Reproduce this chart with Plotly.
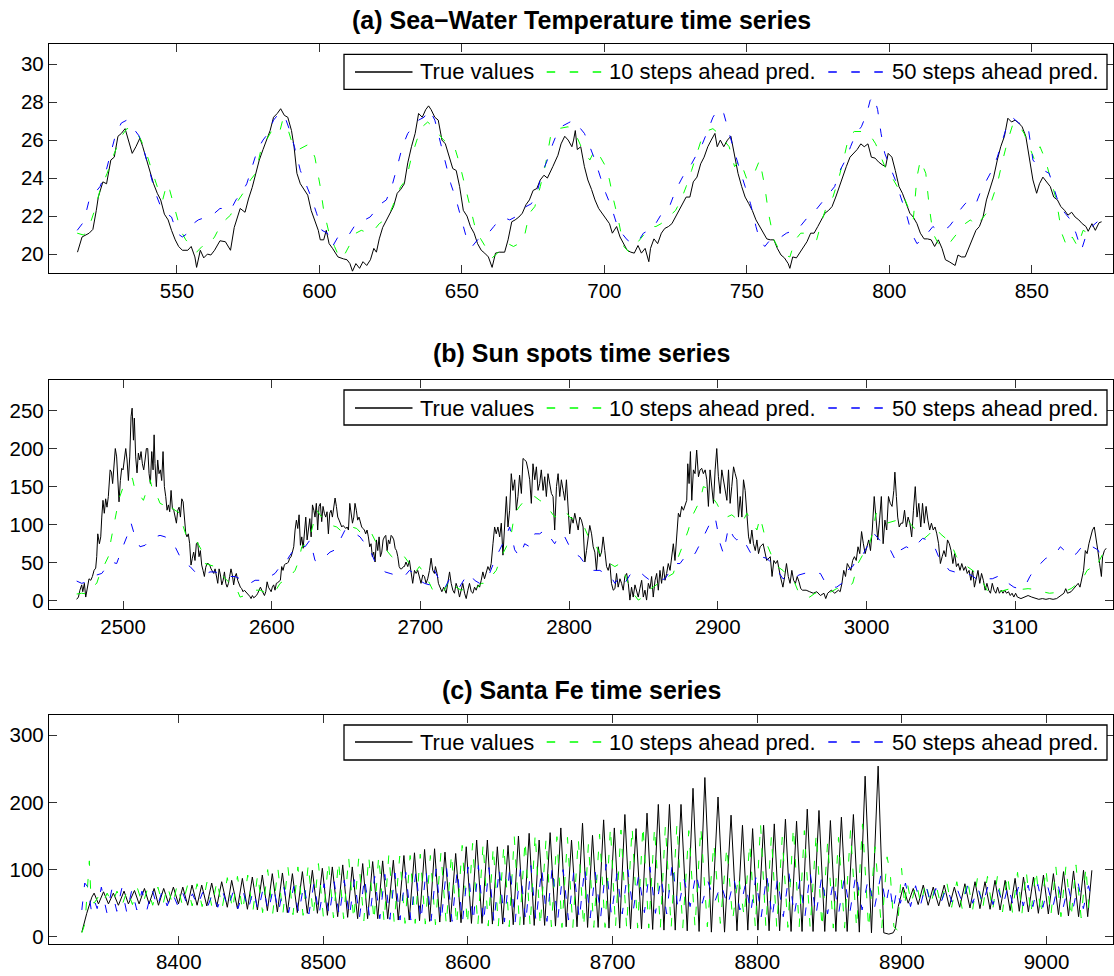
import plotly.graph_objects as go

# ---------------- DATA ----------------
# (a) Sea-Water Temperature
sw_true = [(515.1,20.1),(516.7,20.9),(519.2,21.1),(520.5,21.3),(521.7,22.3),(522.4,23.0),(524,23.8),(525.3,23.7),(526.8,24.95),(528,25.1),(529.3,26.2),(530.5,26.35),(531.8,26.6),(533,26.0),(534.3,25.3),(535.6,25.65),(537,26.1),(538,25.65),(539.3,24.95),(540.6,24.25),(541.8,23.7),(543.1,23.2),(544.3,22.85),(545.6,22.1),(546.9,21.8),(548.1,21.25),(549.4,20.75),(550.6,20.4),(551.9,20.2),(553.8,20.2),(555,20.4),(556.3,19.85),(556.9,19.3),(558.2,20.2),(559.4,19.8),(560.7,20.0),(561.9,19.95),(563.2,20.2),(565.1,20.7),(567,20.65),(568.8,20.2),(570.1,21.4),(571.4,22.1),(572.2,22.4),(573.9,22.2),(575.1,22.9),(576.4,23.5),(577.6,24.25),(578.9,24.95),(580.2,25.5),(581.4,26.0),(582.7,26.5),(583.9,27.2),(585.2,27.4),(586.4,27.65),(587.7,27.3),(588.9,27.2),(590.2,26.5),(591.1,25.65),(592.1,24.25),(593.3,23.7),(594.6,23.4),(595.9,23.1),(597.1,22.3),(598.4,21.8),(599.6,21.25),(600.3,20.75),(601.5,20.75),(602.4,21.25),(603.4,20.55),(604.6,20.3),(606.5,19.85),(608.4,19.75),(609.7,19.7),(610.7,19.5),(611.6,19.1),(612.8,19.5),(614.1,19.25),(615.3,19.6),(616.6,19.4),(617.9,19.7),(619.1,20.3),(620,20.1),(621,20.8),(622.2,21.4),(623.5,21.8),(624.7,22.1),(626,22.5),(627.3,23.2),(628.5,23.4),(629.8,23.7),(631,24.8),(632.3,25.65),(633.6,26.35),(634.8,27.4),(636.1,27.2),(637.3,27.6),(638.3,27.8),(639.2,27.6),(640.5,27.2),(641.7,27.05),(643,26.0),(644.2,25.8),(645.5,25.1),(646.8,24.5),(648,24.4),(649.2,23.55),(650.5,22.3),(651.8,22.0),(653,21.45),(654.3,21.1),(655.5,20.55),(656.8,20.2),(658,20.05),(659.3,19.85),(660.6,19.3),(661.8,20.05),(663.1,20.1),(665,20.1),(666.2,20.75),(667.5,21.7),(668.7,21.8),(670,21.95),(671.2,22.15),(672.5,22.6),(673.7,22.85),(675,23.35),(676.3,23.45),(677.5,23.9),(678.8,24.15),(680,24.0),(681.9,24.6),(683.7,25.2),(684.8,25.8),(686.1,26.2),(687.3,26.0),(688.6,25.65),(689.2,26.0),(689.8,26.5),(690.5,25.5),(691.7,25.65),(693,24.6),(694.2,23.9),(695.5,23.4),(696.7,22.85),(698,22.4),(699.2,22.15),(700.5,21.9),(701.8,21.6),(702.8,21.1),(704.3,21.45),(705.5,20.9),(706.8,20.55),(708,20.2),(709.3,20.1),(710.5,20.05),(711.8,20.45),(713,20.05),(714.3,20.3),(715.6,19.6),(716.2,20.3),(717.4,20.8),(718.7,20.55),(720,21.1),(721.2,21.35),(722.5,21.45),(723.7,21.6),(725,21.95),(726.2,22.3),(727.5,22.65),(728.7,23.0),(730,23.0),(731.2,23.8),(732.5,24.05),(733.8,24.75),(735,25.1),(736.3,25.65),(737.5,26.0),(738.8,26.35),(739.6,25.65),(740.7,26.0),(741.9,25.65),(743.2,26.0),(744.4,26.2),(745.7,25.1),(746.9,24.25),(748.2,23.55),(749.4,23.0),(750.7,22.65),(751.9,22.3),(753.2,21.8),(754.5,21.45),(755.7,21.1),(757,20.8),(758.2,20.75),(759.5,20.75),(760.7,20.3),(762,19.95),(763.2,19.8),(764.5,19.5),(765.1,19.25),(766.1,19.85),(767.4,19.8),(768.6,20.1),(769.9,20.4),(771.1,20.65),(772.4,21.1),(773.6,21.1),(774.9,21.45),(776.2,21.8),(777.4,22.15),(778.7,22.3),(779.9,22.5),(781.2,23.0),(782.4,23.55),(783.7,24.05),(784.9,24.6),(786.2,25.1),(787.5,25.3),(788.7,25.5),(790,25.8),(791.2,25.65),(792.5,25.8),(793.7,25.1),(795,25.05),(796.2,24.85),(797.5,24.7),(798.7,24.6),(799.6,25.3),(800.9,25.1),(802.1,24.4),(803.4,23.55),(804.6,23.2),(805.9,22.65),(807.2,22.15),(808.4,21.95),(809.7,21.6),(810.9,21.1),(812.2,20.8),(813.4,20.8),(814.7,20.75),(815.9,20.4),(817.2,20.75),(818.5,20.3),(819.7,19.7),(821,19.6),(822.2,19.5),(823.1,19.4),(824.1,19.95),(825.3,19.85),(826.6,19.85),(827.9,20.3),(829.1,20.8),(830.4,21.25),(831.6,21.45),(832.9,21.95),(834.1,22.85),(835.4,23.55),(836.6,24.05),(837.9,24.95),(839.1,25.65),(840.4,26.2),(841.6,27.15),(842.9,26.95),(844.1,27.05),(845.4,26.9),(846.6,26.7),(847.9,26.2),(849.2,25.1),(850.4,23.9),(851.7,23.2),(852.7,23.7),(853.9,24.05),(855.2,23.8),(856.5,23.55),(857.7,23.0),(859,22.85),(860.2,22.5),(861.5,22.3),(862.7,22.05),(864,22.2),(865.2,21.95),(866.5,21.8),(867.7,21.6),(869,21.45),(869.8,21.2),(871.1,21.6),(872.3,21.25),(873.6,21.65),(874.5,21.7)]

sw_p10 = [(515,21.1),(517.3,21.0),(519.2,21.45),(521.1,22.3),(523,23.35),(525.5,24.25),(528,25.3),(530.5,26.2),(532.4,26.6),(534.9,26.6),(537.4,26.0),(539.3,25.3),(541.2,24.4),(543.1,23.55),(545,22.85),(546.2,23.55),(547,23.7),(547.5,23.35),(549.4,22.3),(551.3,21.25),(553.1,20.75),(555,20.45),(556.9,20.1),(558.8,20.4),(560.7,20.4),(563.2,20.9),(565.1,21.45),(567,21.8),(568.8,22.05),(570.7,22.65),(573.2,23.2),(575.8,23.9),(577.6,24.25),(579.5,25.5),(581.4,26.0),(583.3,26.5),(585.2,26.6),(586,26.4),(587.1,27.05),(588.9,26.6),(590.8,25.65),(592.7,25.5),(594.6,25.65),(596.5,25.8),(598.4,25.1),(600.3,23.55),(601.5,22.3),(603.4,21.1),(605.3,20.4),(607.2,19.75),(609.1,20.05),(611,20.55),(612.8,21.1),(614.7,21.25),(617.3,21.1),(619.1,21.25),(621,21.6),(622.9,21.8),(624.7,22.15),(626.6,22.85),(628.5,23.55),(630.4,23.9),(632.3,25.1),(634.2,26.0),(636.1,26.7),(638,26.95),(639.8,26.7),(641.7,26.35),(643.6,26.0),(645.5,25.8),(647.4,25.65),(649.2,24.75),(651.1,23.55),(653,22.5),(654.9,21.25),(656.8,20.75),(658.7,20.3),(660.6,19.8),(662.5,20.05),(664.3,20.4),(666.2,20.55),(668.1,20.4),(670,20.55),(671.9,20.9),(673.7,22.15),(675.6,22.5),(677.5,23.55),(679.4,24.75),(681.3,26.35),(683.8,26.6),(687.3,26.7),(689.8,26.35),(692.3,25.5),(694.9,24.95),(696.7,25.5),(698.6,25.1),(700.5,24.6),(701.8,23.9),(703,23.0),(704.9,21.8),(706.8,20.4),(708.7,20.1),(710.5,20.4),(712.4,20.75),(714.3,21.1),(716.2,21.45),(718.1,21.45),(719.9,21.6),(722.5,21.95),(725,22.3),(726.9,22.85),(728.7,23.55),(730.6,24.4),(732.5,25.3),(734.4,26.2),(736.3,26.5),(738.1,26.6),(740,26.35),(741.9,26.0),(743.8,25.65),(745.7,24.6),(747.6,24.95),(750.1,23.9),(752.6,24.25),(754.5,24.95),(756.3,23.55),(757.6,22.15),(759.5,20.75),(761.4,20.2),(763.2,19.95),(765.1,19.85),(767,20.75),(768.9,21.1),(770.8,21.1),(772.6,20.9),(774.5,20.75),(776.4,21.8),(778.3,22.65),(780.2,23.0),(782.1,23.9),(783.9,24.95),(785.8,26.2),(787.7,26.45),(789.6,26.45),(791.5,26.45),(793.3,26.25),(795.2,25.8),(797.1,25.1),(799,24.4),(800.9,24.05),(802.8,23.55),(804.6,23.2),(806.5,22.5),(808.4,21.8),(809.7,24.05),(810.9,24.95),(812.8,24.25),(814,22.5),(815.3,21.1),(817.2,20.55),(819.1,20.4),(821,20.55),(822.8,20.9),(824.7,21.25),(826.6,21.6),(828.5,21.8),(830.4,21.45),(832.2,21.8),(834.1,22.15),(836,22.85),(837.9,23.7),(839.8,24.95),(841.6,26.0),(843.5,26.9),(845.4,26.8),(847.3,26.35),(849.2,25.65),(851,24.95),(852.9,25.65),(854.8,24.95),(856.7,23.9),(858.6,22.85),(860.5,21.1),(862.3,20.4),(864.2,20.9),(866.1,20.4),(868,21.25),(869.8,21.1),(871.7,21.0),(873,21.0)]

sw_p50 = [(515,21.25),(517.3,21.7),(519.2,22.85),(521.1,23.2),(523,23.55),(524.9,24.25),(526.8,25.3),(528.6,26.35),(530.5,26.9),(532.4,27.05),(534.3,26.7),(536.8,26.2),(538.7,25.3),(540.6,24.25),(542.5,23.2),(544.3,22.5),(546.2,22.15),(548.1,21.95),(550,21.1),(551.9,20.9),(553.8,21.1),(555.7,21.6),(557.5,21.8),(559.4,21.9),(561.3,21.95),(563.2,22.15),(565.1,22.4),(567,22.4),(568.8,22.3),(570.7,22.85),(572.6,23.2),(574.5,23.7),(576.4,24.6),(578.3,25.5),(580.2,26.0),(582,26.35),(583.9,27.05),(585.8,27.4),(587.7,27.3),(589.6,26.5),(591.5,25.5),(593.3,24.4),(595.2,23.7),(597.1,23.0),(599,22.15),(600.9,21.25),(602.8,21.1),(604.6,20.4),(606.5,20.9),(608.4,21.1),(610.3,21.0),(612.2,21.45),(614.1,21.7),(615.9,21.8),(617.8,21.95),(619.7,22.3),(621.6,22.65),(623.5,22.85),(625.4,23.55),(627.3,24.6),(629.1,25.65),(631,26.35),(632.9,26.7),(634.8,27.05),(636.7,27.2),(638.6,27.6),(640.5,27.05),(642.3,26.0),(644.2,24.95),(646.1,23.7),(648,22.85),(649.9,21.8),(651.8,20.75),(653.6,20.4),(655.5,20.75),(657.4,20.9),(659.3,21.1),(661.2,21.45),(663.1,21.8),(665,21.9),(666.8,21.8),(668.7,21.95),(670.6,22.15),(672.5,22.5),(674.4,22.65),(676.3,23.2),(678.1,24.25),(680,24.95),(681.9,25.8),(683.8,26.5),(684.8,26.7),(687.3,26.9),(689.2,27.05),(691.1,26.7),(693,26.35),(694.9,25.65),(696.7,24.95),(698.6,24.05),(700.5,23.2),(702.4,22.5),(704.3,21.6),(706.1,21.1),(708,20.75),(709.9,20.55),(711.8,20.65),(713.7,21.1),(715.6,21.25),(717.4,21.45),(719.3,21.95),(721.2,22.4),(723.1,22.6),(725,23.35),(726.9,23.9),(728.7,24.4),(730.6,24.75),(732.5,25.3),(734.4,25.8),(736.3,26.5),(738.1,27.2),(740,27.65),(741.9,27.4),(743.8,26.35),(745.7,25.3),(747.6,24.4),(749.4,23.55),(751.3,22.65),(753.2,21.45),(754.5,20.75),(756.3,20.4),(758.2,20.75),(760.1,20.9),(762,20.9),(763.9,21.1),(765.7,21.2),(767.6,21.25),(769.5,21.6),(771.4,21.95),(773.3,22.15),(775.2,22.5),(777,22.85),(778.9,23.2),(780.8,23.55),(782.7,24.4),(784.6,24.95),(786.4,25.65),(788.3,26.35),(790.2,26.7),(792.1,27.4),(793.3,28.1),(794.6,28.3),(795.9,27.6),(797.1,26.35),(798.4,25.3),(800.3,24.6),(802.1,23.9),(804,23.0),(805.9,22.15),(807.8,21.1),(809.7,20.55),(811.5,20.75),(813.4,21.1),(815.3,21.45),(817.2,21.25),(819.1,21.25),(821,21.45),(822.8,21.8),(824.7,22.3),(826.6,22.65),(828.5,22.85),(830.4,22.65),(832.2,23.35),(834.1,23.9),(836,24.4),(837.9,25.1),(839.8,26.0),(841.6,26.9),(843.5,27.15),(845.4,26.9),(847.3,26.8),(848.6,26.8),(850.4,24.95),(852.3,24.6),(854.2,24.4),(856.1,24.25),(858,23.35),(859.8,22.5),(861.7,22.15),(863.6,21.8),(865.5,21.1),(867.4,20.2),(869.3,21.1),(871.1,21.45),(873,21.7)]

# (b) Sun spots
ss_true = [(2468.8,2),(2470,5),(2471,14),(2472.2,21),(2472.9,12),(2474,23),(2474.9,5),(2476,18),(2477.1,29),(2478.3,27),(2479.4,32),(2480.5,40),(2481.6,43),(2482.3,58),(2483,88),(2484.1,75),(2485,84),(2485.7,110),(2486.5,132),(2487.4,115),(2488.3,134),(2489.2,123),(2490.1,137),(2491.3,172),(2492.2,169),(2493,154),(2494,176),(2494.8,200),(2495.7,189),(2496.6,158),(2497.3,130),(2498.2,158),(2499.1,174),(2500,172),(2500.9,189),(2501.8,200),(2502.7,185),(2503.6,158),(2504.5,189),(2505.4,242),(2506.1,253),(2507,211),(2507.6,240),(2508.5,189),(2509.4,168),(2510.3,194),(2511.2,185),(2512.1,196),(2513,180),(2513.9,172),(2514.8,185),(2515.7,200),(2516.6,200),(2517.5,167),(2518.4,154),(2519.3,196),(2520.2,172),(2520.9,218),(2521.5,180),(2522.4,150),(2523.3,185),(2524.2,167),(2525.1,172),(2526,158),(2526.9,196),(2527.8,150),(2528.7,137),(2529.6,119),(2530.5,126),(2531.4,117),(2532.3,145),(2533.2,121),(2534.1,119),(2535,110),(2535.9,102),(2536.8,119),(2537.7,123),(2538.6,110),(2539.5,134),(2540.4,130),(2541.3,110),(2542.2,88),(2543,84),(2543.9,88),(2544.8,75),(2545.7,47),(2546.6,56),(2547.5,64),(2548.4,53),(2549.3,75),(2550.2,77),(2551.1,58),(2552,66),(2552.9,47),(2553.8,40),(2554.7,32),(2555.6,44),(2556.5,49),(2557.4,49),(2558.3,47),(2559.2,42),(2560.1,38),(2561,36),(2561.9,42),(2562.8,32),(2563.7,23),(2564.6,42),(2565.5,34),(2566.4,21),(2567.3,27),(2568.2,38),(2569.1,23),(2570,18),(2570.9,23),(2571.7,32),(2572.6,42),(2573.5,34),(2574.4,21),(2575.3,32),(2576.2,36),(2577.1,27),(2578,21),(2578.9,18),(2579.8,16),(2580.7,12),(2581.6,14),(2582.5,12),(2583.4,10),(2584.3,9),(2585.2,6),(2586.1,3),(2587,7),(2587.9,4),(2588.8,5),(2589.7,7),(2590.6,10),(2591.5,14),(2592.4,18),(2593.3,14),(2594.2,10),(2595.1,7),(2596,12),(2596.9,25),(2597.8,18),(2598.7,14),(2599.6,12),(2600.4,18),(2601.3,21),(2602.2,14),(2603.1,23),(2604,24),(2604.9,25),(2605.8,27),(2606.7,45),(2607.6,40),(2608.5,47),(2609.4,49),(2610.3,49),(2611.2,51),(2612.1,56),(2613,58),(2613.9,64),(2614.8,71),(2615.7,93),(2616.6,106),(2617.5,95),(2618.4,113),(2619.3,73),(2620.2,84),(2621.1,69),(2622,97),(2622.9,110),(2623.8,80),(2624.7,97),(2625.6,108),(2626.5,84),(2627.4,126),(2628.3,119),(2629.1,110),(2630,128),(2630.9,93),(2631.8,124),(2632.7,128),(2633.6,104),(2634.5,124),(2635.4,115),(2636.3,110),(2637.2,117),(2638.1,88),(2639,115),(2639.9,119),(2640.8,110),(2641.7,124),(2642.6,135),(2643.5,124),(2644.4,110),(2645.3,106),(2646.2,102),(2647.1,97),(2648,99),(2648.9,97),(2649.8,95),(2650.7,97),(2651.6,93),(2652.5,128),(2653.4,110),(2654.3,102),(2655.2,110),(2656,128),(2656.9,119),(2657.8,106),(2658.7,110),(2659.6,102),(2660.5,97),(2661.4,95),(2662.3,93),(2663.2,88),(2664.1,93),(2665,84),(2665.9,71),(2666.8,75),(2667.7,58),(2668.6,64),(2669.5,51),(2670.4,80),(2671.3,66),(2672.2,84),(2673.1,58),(2674,64),(2674.9,80),(2675.8,84),(2676.7,86),(2677.6,66),(2678.5,80),(2679.4,75),(2680.3,86),(2681.2,84),(2682.1,80),(2683,69),(2683.9,66),(2684.8,58),(2685.7,45),(2686.6,42),(2687.4,42),(2688.6,45),(2689.2,45),(2690.3,51),(2691.5,45),(2692.6,53),(2693.7,36),(2694.8,23),(2696,40),(2697.1,36),(2698.2,40),(2699.3,32),(2700.4,23),(2701.6,34),(2702.7,32),(2703.8,23),(2704.9,29),(2706.1,40),(2707.2,56),(2708.3,40),(2709.4,36),(2710.1,45),(2711.2,36),(2712.1,23),(2713.5,16),(2714.4,12),(2715.7,18),(2717.3,10),(2718.4,23),(2719.6,38),(2720.7,23),(2721.8,14),(2722.9,10),(2724,23),(2725.2,16),(2726.3,5),(2727.4,14),(2728.5,23),(2729.7,10),(2730.8,3),(2731.9,14),(2733,23),(2734.2,12),(2735.3,10),(2736.4,18),(2737.5,14),(2738.7,21),(2739.8,18),(2740.9,27),(2742,38),(2743.1,29),(2744.3,36),(2745.4,45),(2746.5,40),(2747.6,49),(2748.8,75),(2749.9,97),(2751,88),(2752.1,97),(2753.3,84),(2754.4,102),(2755.5,60),(2756.6,97),(2757.8,137),(2758.9,97),(2760,119),(2761.1,167),(2762.2,145),(2763.4,159),(2764.5,119),(2765.6,137),(2766.7,165),(2767.9,141),(2769,187),(2770.1,185),(2771.2,183),(2772.4,172),(2773.5,159),(2774.6,128),(2775.7,180),(2776.9,159),(2778,176),(2779.1,145),(2780.2,154),(2781.3,172),(2782.5,145),(2783.6,163),(2784.7,137),(2785.8,167),(2787,154),(2788.1,141),(2789.2,137),(2790.3,93),(2791.5,150),(2792.6,167),(2793.7,137),(2794.8,159),(2796,145),(2797.1,132),(2798.2,159),(2799.3,119),(2800.4,88),(2801.6,110),(2802.7,102),(2803.8,115),(2804.9,106),(2806.1,93),(2807.2,110),(2808.3,106),(2809.4,97),(2810.6,51),(2811.7,66),(2812.8,80),(2813.9,99),(2815.1,88),(2816.2,71),(2817.3,64),(2818.4,40),(2819.6,71),(2820.7,58),(2821.8,64),(2822.9,84),(2824,66),(2825.2,45),(2826.3,40),(2827.4,49),(2828.5,23),(2829.7,14),(2830.8,16),(2831.9,36),(2833,18),(2834.2,29),(2835.3,23),(2836.4,14),(2837.5,32),(2838.7,36),(2839.8,23),(2840.9,1),(2842,18),(2843.1,5),(2844.3,21),(2845.4,14),(2846.5,5),(2847.6,16),(2848.8,27),(2849.9,5),(2851,14),(2852.1,1),(2853.3,23),(2854.4,16),(2855.5,32),(2856.6,5),(2857.8,27),(2858.9,36),(2860,14),(2861.1,40),(2862.2,23),(2863.4,45),(2864.5,27),(2865.6,36),(2866.7,49),(2867.9,40),(2869,58),(2870.1,75),(2871.2,53),(2872.4,93),(2873.5,115),(2874.6,110),(2875.7,124),(2876.9,119),(2878,126),(2879.1,132),(2879.8,180),(2880.7,154),(2881.6,196),(2882.5,132),(2883.6,172),(2884.7,167),(2885.8,198),(2887,163),(2888.1,172),(2889.2,174),(2890.3,167),(2891.5,172),(2892.6,159),(2893.7,124),(2894.8,172),(2896,145),(2897.1,128),(2898.2,172),(2899.3,200),(2900.4,163),(2901.6,141),(2902.7,172),(2903.8,159),(2904.9,150),(2906.1,132),(2907.2,172),(2908.3,128),(2909.4,150),(2910.6,176),(2911.7,167),(2912.8,159),(2913.9,110),(2915.1,137),(2916.2,110),(2917.3,159),(2918.4,145),(2919.6,106),(2920.7,84),(2921.8,75),(2922.9,93),(2924,75),(2925.2,66),(2926.3,80),(2927.4,62),(2928.5,71),(2930.5,75),(2932.9,53),(2935.3,58),(2936.5,32),(2937.7,53),(2938.9,49),(2940.1,53),(2942.1,32),(2943.8,18),(2945,32),(2946.2,49),(2947.4,32),(2948.6,23),(2949.8,40),(2951,27),(2952.2,23),(2953.4,32),(2954.6,25),(2955.8,16),(2957,14),(2959.4,14),(2961.8,12),(2964.2,10),(2966.6,12),(2969,7),(2971.4,10),(2972.6,3),(2973.9,10),(2976.3,14),(2978.7,10),(2981.1,14),(2982.3,12),(2983.5,23),(2984.7,40),(2985.9,32),(2987.1,49),(2988.3,45),(2989.5,40),(2990.7,53),(2991.9,58),(2993.1,53),(2994.3,71),(2995.5,62),(2996.7,91),(2997.9,75),(2999.1,62),(3000.3,71),(3001.5,80),(3002.7,66),(3003.9,93),(3005.2,137),(3006.4,110),(3007.6,80),(3008.8,106),(3010,137),(3011.2,75),(3012.4,106),(3013.6,93),(3014.8,137),(3016,128),(3017.2,124),(3018.4,145),(3019.1,169),(3020.1,137),(3021,110),(3022,97),(3023.2,102),(3024.4,102),(3025.6,119),(3026.8,97),(3028,110),(3029.2,102),(3030.4,84),(3031.6,119),(3032.8,150),(3034,110),(3035.2,128),(3036.5,97),(3037.7,128),(3038.9,102),(3040.1,124),(3041.3,106),(3042.5,93),(3043.7,102),(3044.9,93),(3046.1,97),(3047.3,88),(3048.5,75),(3049.7,49),(3050.9,58),(3052.1,66),(3053.3,58),(3054.5,80),(3055.7,75),(3056.9,66),(3058.1,49),(3059.3,62),(3060.5,45),(3061.7,49),(3062.9,40),(3064.1,49),(3065.4,40),(3066.6,45),(3067.8,36),(3069,40),(3070.2,27),(3071.4,40),(3072.6,18),(3073.8,32),(3075,40),(3076.2,23),(3077.4,36),(3078.6,27),(3079.8,14),(3081,23),(3082.2,14),(3083.4,10),(3084.6,23),(3085.8,14),(3087,10),(3088.2,18),(3089.4,10),(3090.6,14),(3091.8,10),(3093,14),(3094.2,10),(3095.5,12),(3096.7,7),(3097.9,10),(3099.1,5),(3100.3,10),(3101.5,5),(3103.9,3),(3106.3,5),(3108.7,7),(3111.1,5),(3113.5,3),(3115.9,2),(3118.3,3),(3120.7,2),(3123.1,3),(3125.5,2),(3127.9,3),(3130.4,7),(3132.8,10),(3134,16),(3135.2,10),(3137.6,12),(3140,18),(3142.4,23),(3143.6,18),(3144.8,32),(3146,40),(3147.2,66),(3148.4,62),(3149.6,75),(3150.8,84),(3152,93),(3153.2,97),(3154.4,84),(3155.6,66),(3156.8,49),(3158,32),(3158.8,58),(3160,66),(3161.2,69)]

ss_p10 = [(2468.8,9),(2472.2,10),(2475.6,9),(2478.9,18),(2482.3,23),(2484.5,36),(2487.9,49),(2490.1,58),(2491.9,80),(2494.6,106),(2497.3,134),(2500.2,150),(2503.6,159),(2506.3,161),(2508.1,145),(2510.3,141),(2513.7,132),(2515.9,145),(2518.2,159),(2520.4,141),(2522.6,139),(2524.9,128),(2527.1,126),(2529.4,119),(2531.6,124),(2535,119),(2538.3,115),(2540.6,97),(2542.8,84),(2546.2,80),(2549.6,78),(2552.9,66),(2555.2,49),(2558.5,47),(2561.9,45),(2565.2,36),(2568.6,29),(2572,23),(2575.3,21),(2578.7,5),(2582.1,7),(2585.4,10),(2588.8,14),(2592.2,14),(2595.5,11),(2598.9,11),(2602.2,12),(2605.6,23),(2609,27),(2612.3,32),(2615.7,40),(2617.9,51),(2620.2,71),(2623.5,75),(2626.9,93),(2630.3,119),(2633.6,110),(2637,106),(2640.4,99),(2643.7,97),(2647.1,91),(2650.4,95),(2653.8,97),(2657.2,95),(2660.5,88),(2663.9,84),(2667.3,88),(2670.6,75),(2674,71),(2677.4,66),(2680.7,58),(2684.1,53),(2687.4,58),(2689.2,58),(2692.6,49),(2696,36),(2699.3,45),(2702.7,36),(2706.1,23),(2708.3,14),(2711.7,14),(2715.1,10),(2718.4,23),(2720.7,29),(2724,18),(2727.4,14),(2730.8,16),(2734.2,16),(2737.5,16),(2740.9,23),(2744.3,23),(2747.6,32),(2751,40),(2754.4,58),(2757.8,71),(2761.1,88),(2763.4,115),(2766.7,124),(2770.1,132),(2773.5,132),(2776.9,137),(2780.2,132),(2783.6,128),(2787,119),(2790.3,110),(2793.7,115),(2797.1,119),(2800.4,110),(2803.8,106),(2807.2,102),(2810.6,95),(2813.9,80),(2817.3,75),(2820.7,62),(2824,58),(2827.4,49),(2830.8,45),(2834.2,49),(2836.4,40),(2839.8,23),(2843.1,10),(2846.5,1),(2849.9,5),(2853.3,14),(2856.6,18),(2860,23),(2863.4,23),(2866.7,32),(2870.1,36),(2873.5,58),(2876.9,75),(2880.2,93),(2882.5,110),(2884.7,119),(2888.1,132),(2890.3,150),(2892.6,148),(2896,137),(2899.3,128),(2902.7,115),(2906.1,110),(2909.4,113),(2912.8,108),(2916.2,102),(2919.6,115),(2922.9,104),(2926.3,93),(2928.5,110),(2932.9,75),(2936.5,58),(2940.1,45),(2943.8,40),(2947.4,32),(2951,27),(2954.6,10),(2958.2,5),(2961.8,5),(2965.4,10),(2969,12),(2972.6,10),(2976.3,12),(2979.9,16),(2983.5,18),(2987.1,18),(2990.7,23),(2994.3,49),(2997.9,62),(3001.5,71),(3003.9,88),(3006.4,115),(3010,110),(3013.6,102),(3017.2,104),(3020.8,106),(3024.4,102),(3028,104),(3031.6,97),(3035.2,84),(3038.9,82),(3042.5,88),(3046.1,97),(3049.7,88),(3053.3,82),(3056.9,75),(3060.5,58),(3064.1,49),(3067.8,45),(3071.4,40),(3075,32),(3078.6,23),(3082.2,10),(3085.8,10),(3089.4,12),(3093,14),(3096.7,16),(3100.3,16),(3103.9,15),(3108.7,16),(3113.5,15),(3118.3,12),(3123.1,10),(3127.9,11),(3132.8,12),(3137.6,16),(3141.2,21),(3144.8,27),(3148.4,40),(3150.8,43),(3153.2,40),(3155.6,49),(3158,58),(3160.4,67)]

ss_p50 = [(2468.8,26),(2472.2,23),(2475.6,25),(2478.9,29),(2482.3,34),(2485.7,36),(2489,45),(2492.4,51),(2495.7,49),(2499.1,67),(2502.5,84),(2505.4,102),(2508.1,84),(2511.4,71),(2514.8,73),(2518.2,80),(2521.5,84),(2524.9,86),(2528.3,84),(2531.6,80),(2535,71),(2538.3,58),(2541.7,49),(2545.1,45),(2548.4,38),(2551.8,36),(2555.2,35),(2558.5,38),(2561.9,38),(2565.2,36),(2568.6,34),(2572,32),(2575.3,32),(2578.7,29),(2582.1,23),(2585.4,23),(2588.8,27),(2592.2,27),(2595.5,32),(2598.9,32),(2602.2,36),(2605.6,45),(2609,49),(2612.3,60),(2615.7,69),(2619.1,73),(2622.4,71),(2625.8,80),(2629.1,53),(2632.5,51),(2635.9,58),(2639.2,64),(2642.6,67),(2646,80),(2649.3,93),(2652.7,93),(2656.1,88),(2659.4,84),(2662.8,75),(2666.1,67),(2669.5,51),(2672.9,45),(2676.2,38),(2679.6,36),(2683,34),(2686.3,34),(2689.2,32),(2692.6,40),(2696,36),(2699.3,27),(2702.7,23),(2706.1,21),(2709.4,40),(2712.8,27),(2716.2,16),(2719.6,29),(2722.9,21),(2726.3,18),(2729.7,29),(2733,36),(2736.4,27),(2739.8,23),(2743.1,27),(2746.5,36),(2749.9,53),(2753.3,67),(2756.6,80),(2760,97),(2763.4,67),(2766.7,58),(2770.1,75),(2773.5,71),(2776.9,88),(2780.2,88),(2783.6,93),(2787,84),(2790.3,75),(2793.7,88),(2797.1,84),(2800.4,71),(2803.8,62),(2807.2,58),(2810.6,49),(2813.9,40),(2817.3,40),(2820.7,40),(2824,36),(2827.4,34),(2830.8,23),(2834.2,32),(2837.5,23),(2840.9,34),(2844.3,40),(2847.6,38),(2851,32),(2854.4,27),(2857.8,29),(2861.1,27),(2864.5,29),(2867.9,40),(2871.2,49),(2874.6,49),(2878,58),(2881.3,64),(2884.7,62),(2888.1,75),(2891.5,88),(2894.8,102),(2898.2,110),(2901.6,75),(2903.8,62),(2907.2,97),(2910.6,84),(2912.8,80),(2916.2,84),(2919.6,71),(2922.9,60),(2926.3,58),(2928.5,58),(2932.9,56),(2936.5,49),(2940.1,40),(2943.8,29),(2947.4,32),(2951,29),(2954.6,34),(2958.2,36),(2961.8,38),(2965.4,36),(2969,36),(2972.6,23),(2976.3,18),(2979.9,18),(2983.5,23),(2987.1,40),(2990.7,45),(2994.3,58),(2997.9,62),(3001.5,75),(3005.2,88),(3008.8,80),(3012.4,75),(3016,67),(3019.6,53),(3023.2,67),(3026.8,71),(3030.4,67),(3034,75),(3037.7,82),(3041.3,80),(3044.9,75),(3048.5,58),(3052.1,49),(3055.7,40),(3059.3,38),(3062.9,38),(3066.6,36),(3070.2,34),(3073.8,29),(3077.4,32),(3081,29),(3084.6,29),(3088.2,32),(3091.8,32),(3095.5,23),(3099.1,18),(3102.7,16),(3106.3,18),(3109.9,32),(3113.5,43),(3117.1,49),(3120.7,56),(3124.3,58),(3127.9,64),(3130.4,71),(3134,64),(3137.6,58),(3141.2,62),(3144.8,71),(3148.4,67),(3152,71),(3155.6,67),(3158,58),(3160.4,67)]

# (c) Santa Fe
sf_true = [(8333,7),(8336.4,35),(8339.9,59),(8341.5,65),(8344.5,49),(8348,67),(8351.4,49),(8354.8,65),(8358.3,47),(8362.2,68),(8365.2,49),(8369.4,69),(8372.6,49),(8376.3,72),(8379.5,49),(8383,72),(8386,47),(8389.6,72),(8392.9,50),(8396.3,74),(8399.8,49),(8402.8,74),(8406.2,47),(8409.2,77),(8412.7,47),(8415.9,77),(8419.4,46),(8422.8,80),(8426.3,45),(8429.7,82),(8433.6,44),(8436.6,84),(8440.6,42),(8444,87),(8447.5,41),(8450.9,89),(8454.4,40),(8457.8,92),(8461.3,39),(8464.7,94),(8468.2,37),(8471.7,95),(8475.1,36),(8478.6,94),(8482,36),(8485.5,97),(8488.9,35),(8492.4,99),(8495.9,35),(8499.3,102),(8502.8,32),(8506.2,104),(8509.9,30),(8513.4,107),(8516.8,29),(8520,104),(8523.7,27),(8527.2,109),(8530.6,27),(8534.1,112),(8537.6,27),(8541,113),(8544.5,27),(8548.4,114),(8551.8,25),(8555.7,121),(8559.4,25),(8563,125),(8566.5,24),(8570,130),(8573.5,23),(8576.9,131),(8580.5,22),(8584.1,126),(8587.8,22),(8591.5,124),(8595.2,21),(8598.8,134),(8602.4,20),(8606,144),(8609.7,20),(8613.4,144),(8616.9,19),(8620.3,134),(8624,19),(8627.7,136),(8631.3,18),(8634.9,150),(8638.6,18),(8642.3,154),(8645.8,17),(8649.2,144),(8653,17),(8656.8,155),(8660.5,16),(8664.2,162),(8667.9,15),(8671.6,144),(8675.4,15),(8679.2,169),(8682.7,14),(8686.1,151),(8690,14),(8693.8,174),(8697.5,13),(8701.2,162),(8704.9,13),(8708.5,182),(8712.4,12),(8716.2,161),(8720,12),(8723.8,184),(8727.7,11),(8731.6,197),(8735.5,10),(8739.3,197),(8743.3,10),(8747.3,197),(8751.6,9),(8755.6,221),(8759.8,8),(8763.8,237),(8768.3,7),(8772.9,208),(8777.4,7),(8781.9,181),(8786,9),(8789.8,166),(8793.5,10),(8796.8,161),(8800.5,10),(8804.4,166),(8808.2,9),(8811.8,168),(8815.5,9),(8819.5,175),(8823.4,8),(8827.2,172),(8831,8),(8834.6,190),(8838.6,8),(8842.7,188),(8846.7,8),(8850.6,173),(8854.4,8),(8858.2,178),(8862.2,8),(8866.5,182),(8870.6,7),(8874.6,239),(8879,6),(8883.6,254),(8887.5,6),(8891,4),(8894,6),(8895.5,12),(8897.5,45),(8900.9,74),(8904.4,50),(8907.9,72),(8911.3,48),(8914.8,77),(8918.2,47),(8921.7,74),(8925.5,46),(8929.3,77),(8932.8,45),(8936.3,74),(8940,44),(8943.6,79),(8947.1,43),(8950.6,82),(8954,42),(8957.5,82),(8961,41),(8964.4,84),(8967.9,40),(8971.4,84),(8974.9,39),(8978.3,87),(8981.2,38),(8984.1,89),(8987.5,37),(8991,89),(8994.4,35),(8997.9,92),(9001.3,34),(9004.8,94),(9008.3,33),(9011.8,97),(9015.2,31),(9018.7,98),(9022.2,30),(9025.6,99),(9028.5,30),(9031.4,99)]

sf_p10 = [(8333,6),(8335.2,20),(8338.2,113),(8339.4,55),(8341.5,50),(8344.5,60),(8347.5,50),(8350.5,65),(8354,50),(8357.3,68),(8361,48),(8364.5,70),(8368,48),(8371.5,72),(8375,48),(8378.5,72),(8382,47),(8385.6,74),(8389,47),(8392.2,76),(8395.8,47),(8399,78),(8402.5,47),(8406,76),(8409.3,46),(8412.7,79),(8416.2,45),(8419.5,81),(8423,44),(8426.5,84),(8430,42),(8433.6,88),(8437.2,40),(8440.6,90),(8444.2,38),(8447.7,92),(8451.2,37),(8454.6,93),(8458,36),(8461.5,100),(8465,35),(8468.6,101),(8472,34),(8475.5,104),(8479,33),(8482.4,104),(8486,32),(8489.6,108),(8493,31),(8496.6,109),(8500,30),(8503.5,112),(8507,28),(8510.5,113),(8514,27),(8517.5,118),(8521,25),(8524.4,116),(8528,24),(8531.4,120),(8535,23),(8538.3,121),(8542,22),(8545.3,123),(8549,21),(8552.8,120),(8556.5,20),(8560,121),(8563.5,20),(8567,123),(8570.5,19),(8574,121),(8577.5,18),(8581.3,125),(8585,18),(8588.6,124),(8592.2,17),(8596,136),(8599.6,17),(8603.2,139),(8606.8,16),(8610.5,139),(8614,16),(8617.5,134),(8621,16),(8624.8,136),(8628.5,15),(8632,149),(8635.7,15),(8639.5,144),(8643,15),(8646.5,154),(8650,15),(8654,146),(8657.7,15),(8661.5,149),(8665,14),(8668.8,148),(8672.5,14),(8676.3,146),(8680,14),(8683.3,139),(8687,14),(8691,153),(8694.8,14),(8698.5,163),(8702,14),(8705.8,159),(8709.7,13),(8713.5,163),(8717.3,13),(8721,166),(8725,13),(8729,163),(8733,13),(8736.5,166),(8740.5,13),(8744.5,168),(8748.5,13),(8752.7,158),(8757,14),(8761,163),(8765.5,15),(8770,139),(8774.5,20),(8779,134),(8783,25),(8787,91),(8791,30),(8794.8,139),(8798.7,14),(8802.3,168),(8806,14),(8809.8,150),(8813.5,14),(8817.3,148),(8821.2,14),(8825,163),(8829,14),(8832.6,158),(8836.6,13),(8840.8,154),(8844.8,13),(8848.7,141),(8852.6,13),(8856.2,148),(8860.4,13),(8864.5,158),(8868.7,13),(8872.8,168),(8877,12),(8881.5,134),(8886,10),(8889.8,119),(8892,94),(8894.5,15),(8897,10),(8899.8,102),(8902,45),(8903.6,82),(8906.5,50),(8910,80),(8913.2,48),(8916.5,82),(8920,47),(8923.4,80),(8927,46),(8930.8,84),(8934.4,44),(8938,82),(8941.7,42),(8945.3,86),(8949,41),(8952.3,88),(8955.8,40),(8959.2,90),(8962.7,38),(8966.2,92),(8969.6,37),(8973,93),(8976.5,36),(8980,96),(8983,34),(8986,98),(8989.2,33),(8992.7,100),(8996.2,32),(8999.6,102),(9003,31),(9006.5,104),(9010,30),(9013.5,106),(9017,28),(9020.4,107),(9024,28),(9027.3,104),(9029.5,35),(9031,40)]

sf_p50 = [(8333,40),(8335,80),(8337.2,74),(8339.5,40),(8341.5,55),(8343.6,42),(8346.5,74),(8350.3,36),(8353.7,70),(8357.2,38),(8360.6,72),(8364.1,36),(8367.6,70),(8371,40),(8374.6,68),(8378.1,41),(8381.6,71),(8385.1,44),(8388.5,68),(8392,46),(8395.5,66),(8399,48),(8402.5,67),(8406,47),(8409.5,64),(8413,46),(8416.5,66),(8420,45),(8423.5,65),(8427,44),(8430.5,67),(8434,43),(8437.5,66),(8441,42),(8444.5,68),(8448,40),(8451.5,69),(8455,39),(8458.5,73),(8462,38),(8465.5,74),(8469,37),(8472.5,76),(8476,36),(8479.5,75),(8483,35),(8486.5,78),(8490,34),(8493.5,80),(8497,33),(8500.5,79),(8504,32),(8507.5,82),(8511,31),(8514.5,84),(8518,30),(8521.5,85),(8525,29),(8528.5,88),(8532,28),(8535.5,90),(8539,27),(8542.5,93),(8546,26),(8549.5,95),(8553,25),(8557,96),(8560.5,25),(8564,98),(8567.5,24),(8571,99),(8574.5,24),(8578,101),(8581.5,23),(8585.2,103),(8589,23),(8592.6,100),(8596.2,22),(8600,104),(8603.6,22),(8607.2,106),(8610.8,21),(8614.5,103),(8618,21),(8621.6,102),(8625.2,22),(8629,104),(8632.6,22),(8636.2,100),(8640,22),(8643.5,106),(8647,23),(8651,102),(8654.6,23),(8658.3,104),(8662,24),(8665.8,100),(8669.5,25),(8673.2,98),(8677,26),(8680.7,103),(8684.5,28),(8688,96),(8691.8,30),(8695.5,108),(8699.2,32),(8703,94),(8706.7,34),(8710.5,100),(8714.2,38),(8718,92),(8722,36),(8725.8,104),(8729.6,35),(8733.5,88),(8737.4,34),(8741.3,110),(8745.3,40),(8749.4,86),(8753.6,45),(8757.7,95),(8762,50),(8766,82),(8770.6,52),(8775,78),(8779.6,46),(8784,86),(8788,40),(8792,80),(8795.5,36),(8799,88),(8802.8,30),(8806.6,92),(8810.3,28),(8814,86),(8818,30),(8822,94),(8825.6,32),(8829.5,84),(8833,30),(8836.6,96),(8840.6,32),(8844.6,90),(8848.6,34),(8852.6,82),(8856.4,36),(8860.2,88),(8864.2,38),(8868.3,94),(8872.5,40),(8876.7,86),(8881,42),(8885.5,92),(8889,48),(8891.5,78),(8894,40),(8896.5,70),(8899,50),(8902.5,80),(8906,45),(8909.5,76),(8913,48),(8916.5,77),(8920,50),(8923.5,72),(8927.2,52),(8931,74),(8934.6,52),(8938.3,71),(8942,50),(8945.5,76),(8949,50),(8952.5,73),(8956,49),(8959.5,75),(8963,48),(8966.5,72),(8970,47),(8973.5,76),(8977,46),(8980.6,74),(8984,46),(8987.3,77),(8990.6,45),(8994,78),(8997.5,44),(9001,74),(9004.4,44),(9008,78),(9011.5,43),(9015,75),(9018.4,42),(9022,79),(9025.5,42),(9029,76),(9031,60)]

titles = ["(a) Sea\u2212Water Temperature time series",
          "(b) Sun spots time series",
          "(c) Santa Fe time series"]
legend_labels = ["True values", "10 steps ahead pred.", "50 steps ahead pred."]
x_ranges = [[505.1, 878.5], [2450.2, 3165.8], [8310.3, 9046]]
y_ranges = [[19.02, 31.04], [-10.3, 290], [-10.2, 330]]
x_ticks = [[550, 600, 650, 700, 750, 800, 850],
           [2500, 2600, 2700, 2800, 2900, 3000, 3100],
           [8400, 8500, 8600, 8700, 8800, 8900, 9000]]
y_ticks = [[20, 22, 24, 26, 28, 30], [0, 50, 100, 150, 200, 250], [0, 100, 200, 300]]

# ---------------- FIGURE ----------------
W, H = 1114, 976
FONT = "Liberation Sans, Arial, Helvetica, sans-serif"
COLORS = ["#000000", "#00ff00", "#0000ff"]
DASH = "8.5px,14.5px"

def px(x):
    return x / W

def py(y):
    return 1 - y / H

# pixel geometry of each axes box: (top, bottom)
boxes = [(44.3, 272.7), (380.0, 608.7), (715.0, 943.7)]
left, right = 49.0, 1113.0
title_y = [20, 353, 690]

panels = [(sw_true, sw_p10, sw_p50), (ss_true, ss_p10, ss_p50), (sf_true, sf_p10, sf_p50)]

fig = go.Figure()
layout = dict(width=W, height=H, margin=dict(l=0, r=0, t=0, b=0, pad=0),
              paper_bgcolor="white", plot_bgcolor="white", showlegend=False,
              font=dict(family=FONT, size=20, color="black"))
shapes, annotations = [], []

for i, series in enumerate(panels):
    k = "" if i == 0 else str(i + 1)
    for s, data in enumerate(series):
        xs = [p[0] for p in data]
        ys = [p[1] for p in data]
        fig.add_trace(go.Scatter(
            x=xs, y=ys, mode="lines", xaxis="x" + k, yaxis="y" + k,
            line=dict(color=COLORS[s], width=1, dash="solid" if s == 0 else DASH),
            hoverinfo="skip"))
    top, bot = boxes[i]
    axis_common = dict(showline=True, linecolor="black", linewidth=1.3, mirror="ticks",
                       ticks="inside", ticklen=8, tickwidth=1, tickcolor="#333333",
                       showgrid=False, zeroline=False, automargin=False,
                       tickfont=dict(family=FONT, size=20.5, color="black"))
    layout["xaxis" + k] = dict(domain=[px(left), px(right)], anchor="y" + k,
                               range=x_ranges[i], tickvals=x_ticks[i],
                               ticktext=[str(v) for v in x_ticks[i]], **axis_common)
    layout["yaxis" + k] = dict(domain=[py(bot), py(top)], anchor="x" + k,
                               range=y_ranges[i], tickvals=y_ticks[i],
                               ticktext=[str(v) for v in y_ticks[i]], **axis_common)
    # title
    annotations.append(dict(text="<b>" + titles[i] + "</b>", xref="paper", yref="paper",
                            x=px((left + right) / 2), y=py(title_y[i]), xanchor="center",
                            yanchor="middle", showarrow=False,
                            font=dict(family=FONT, size=25, color="black")))
    # legend box
    lt, lb = top + 10, top + 45
    lc = int(round((lt + lb) / 2))
    shapes.append(dict(type="rect", xref="paper", yref="paper", x0=px(344), x1=px(1107),
                       y0=py(lb), y1=py(lt), line=dict(color="black", width=1.3),
                       fillcolor="white", layer="above"))
    samples = [(355, 412.5, 418), (546.7, 603.3, 607.4), (828.3, 886, 889.7)]
    for s, (a, b, t) in enumerate(samples):
        shapes.append(dict(type="line", xref="paper", yref="paper", x0=px(a), x1=px(b),
                           y0=py(lc), y1=py(lc), layer="above",
                           line=dict(color=COLORS[s], width=1.5, dash="solid" if s == 0 else DASH)))
        annotations.append(dict(text=legend_labels[s], xref="paper", yref="paper",
                                x=px(t), y=py(lc), xanchor="left", yanchor="middle",
                                showarrow=False, font=dict(family=FONT, size=22, color="black")))

layout["shapes"] = shapes
layout["annotations"] = annotations
fig.update_layout(**layout)
fig.write_html("out.html", config={"displayModeBar": False},
               post_script="document.body.style.margin='0';document.body.style.overflow='hidden';")
